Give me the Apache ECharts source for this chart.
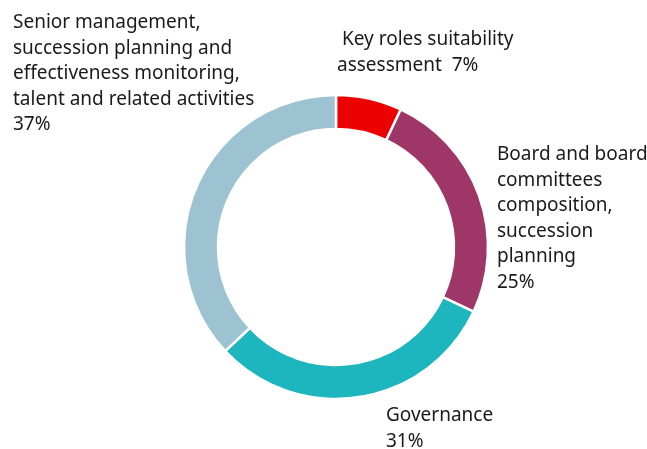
<!DOCTYPE html>
<html>
<head>
<meta charset="utf-8">
<script src="https://cdn.jsdelivr.net/npm/echarts@6/dist/echarts.min.js"></script>
<style>
  html, body { margin: 0; padding: 0; background: #fff; }
  #chart { width: 647px; height: 449px; }
</style>
</head>
<body>
<div id="chart"></div>
<script>
// slices, clockwise from 12 o'clock
const categories = [
  ' Key roles suitability\nassessment',
  'Board and board\ncommittees\ncomposition,\nsuccession\nplanning',
  'Governance',
  'Senior management,\nsuccession planning and\neffectiveness monitoring,\ntalent and related activities'
]
const shares = [7, 25, 31, 37]
const colors = ['#ec0000', '#9e3667', '#1db5be', '#9dc3d3']

// label top-left corners
const labelPos = [[337, 27], [497, 142], [386, 403], [13, 10]]

const myChart = echarts.init(document.getElementById('chart'))
let option = {
  animation: false,
  series: [
    {
      type: 'pie',
      center: [336, 247],
      radius: [118, 152],
      startAngle: 90,
      clockwise: true,
      itemStyle: { borderColor: '#fff', borderWidth: 2.5 },
      label: {
        show: true,
        position: 'outside',
        overflow: 'none',
        color: '#1a1a1a',
        fontFamily: 'Noto Sans',
        fontSize: 19,
        lineHeight: 25.5,
        formatter: function (p) {
          return p.name + (p.dataIndex === 0 ? '  ' : '\n') + p.value + '%'
        }
      },
      labelLine: { show: false },
      labelLayout: function (params) {
        const pos = labelPos[params.dataIndex]
        return { x: pos[0], y: pos[1], align: 'left', verticalAlign: 'top' }
      },
      data: categories.map((name, i) => ({
        name: name,
        value: shares[i],
        itemStyle: { color: colors[i] }
      }))
    }
  ]
}
option && myChart.setOption(option)
</script>
</body>
</html>
